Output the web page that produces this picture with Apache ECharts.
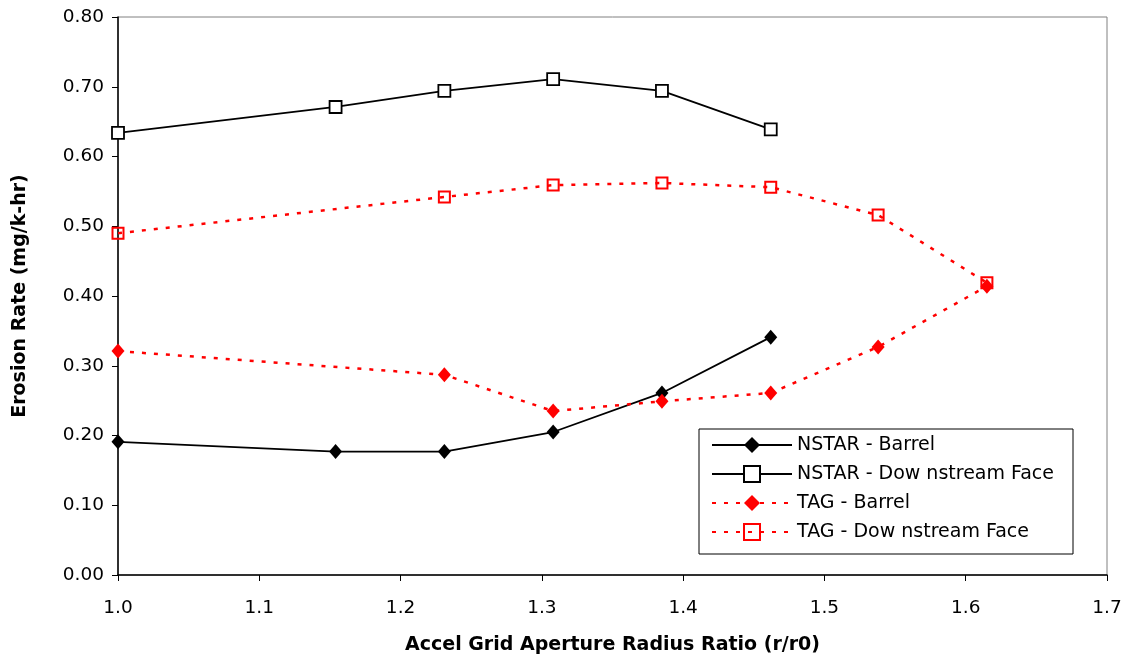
<!DOCTYPE html>
<html>
<head>
<meta charset="utf-8">
<script src="https://cdn.jsdelivr.net/npm/echarts@6/dist/echarts.min.js"></script>
<style>
html,body{margin:0;padding:0;background:#fff;}
#chart{width:1128px;height:658px;}
</style>
</head>
<body>
<div id="chart"></div>
<script>
// Data
var nstarBarrelX = [1.000, 1.154, 1.231, 1.308, 1.385, 1.462];
var nstarBarrelY = [0.191, 0.177, 0.177, 0.205, 0.261, 0.341];
var nstarFaceX = [1.000, 1.154, 1.231, 1.308, 1.385, 1.462];
var nstarFaceY = [0.634, 0.671, 0.694, 0.711, 0.694, 0.639];
var tagBarrelX = [1.000, 1.231, 1.308, 1.385, 1.462, 1.538, 1.615];
var tagBarrelY = [0.321, 0.287, 0.235, 0.249, 0.261, 0.327, 0.414];
var tagFaceX = [1.000, 1.231, 1.308, 1.385, 1.462, 1.538, 1.615];
var tagFaceY = [0.490, 0.542, 0.559, 0.562, 0.556, 0.516, 0.419];
var seriesNames = ['NSTAR - Barrel', 'NSTAR - Dow nstream Face', 'TAG - Barrel', 'TAG - Dow nstream Face'];
var xTitle = 'Accel Grid Aperture Radius Ratio (r/r0)';
var yTitle = 'Erosion Rate (mg/k-hr)';

function pairs(xs, ys){ return xs.map(function(x,i){ return [x, ys[i]]; }); }

var FONT = '"DejaVu Sans", sans-serif';
var chart = echarts.init(document.getElementById('chart'), null, {renderer:'canvas'});
chart.setOption({
  animation: false,
  backgroundColor: '#fff',
  textStyle: {fontFamily: FONT},
  grid: {left:118, right:21, top:17, bottom:83, containLabel:false, outerBoundsMode:'none',
         show:true, borderColor:'#808080', borderWidth:1, backgroundColor:'transparent'},
  xAxis: {
    type:'value', min:1.0, max:1.7, interval:0.1,
    name: xTitle, nameLocation:'middle', nameGap:61,
    nameTextStyle:{fontFamily:FONT, fontSize:19, fontWeight:'bold', color:'#000'},
    axisLine:{show:true, onZero:false, lineStyle:{color:'#000', width:1.5}},
    axisTick:{show:true, inside:false, length:6, lineStyle:{color:'#000'}},
    axisLabel:{fontFamily:FONT, fontSize:18.5, color:'#000', margin:24, formatter:function(v){return v.toFixed(1);}},
    splitLine:{show:false}
  },
  yAxis: {
    type:'value', min:0, max:0.8, interval:0.1,
    name: yTitle, nameLocation:'middle', nameGap:88, nameRotate:90,
    nameTextStyle:{fontFamily:FONT, fontSize:19, fontWeight:'bold', color:'#000'},
    axisLine:{show:true, onZero:false, lineStyle:{color:'#000', width:1.5}},
    axisTick:{show:true, inside:false, length:6, lineStyle:{color:'#000'}},
    axisLabel:{fontFamily:FONT, fontSize:18.5, color:'#000', margin:14, formatter:function(v){return v.toFixed(2);}},
    splitLine:{show:false}
  },
  legend: {
    orient:'vertical', left:699, top:429,
    data: seriesNames,
    itemWidth:80, itemHeight:20, itemGap:9,
    padding:[6, 19, 12, 12],
    borderColor:'#000', borderWidth:1, backgroundColor:'#fff',
    textStyle:{fontFamily:FONT, fontSize:19, color:'#000', lineHeight:20}
  },
  series: [
    {name:seriesNames[0], type:'line', data:pairs(nstarBarrelX, nstarBarrelY),
     symbol:'diamond', symbolSize:[13,15],
     itemStyle:{color:'#000'}, lineStyle:{color:'#000', width:1.8}},
    {name:seriesNames[1], type:'line', data:pairs(nstarFaceX, nstarFaceY),
     symbol:'rect', symbolSize:12,
     itemStyle:{color:'#fff', borderColor:'#000', borderWidth:1.8}, lineStyle:{color:'#000', width:1.8}},
    {name:seriesNames[2], type:'line', data:pairs(tagBarrelX, tagBarrelY),
     symbol:'diamond', symbolSize:[13,15],
     itemStyle:{color:'#ff0000'}, lineStyle:{color:'#ff0000', width:2.5, type:[4,8]}},
    {name:seriesNames[3], type:'line', data:pairs(tagFaceX, tagFaceY),
     symbol:'rect', symbolSize:11,
     itemStyle:{color:'rgba(255,255,255,0)', borderColor:'#ff0000', borderWidth:2}, lineStyle:{color:'#ff0000', width:2.5, type:[4,8]}}
  ]
});
</script>
</body>
</html>
